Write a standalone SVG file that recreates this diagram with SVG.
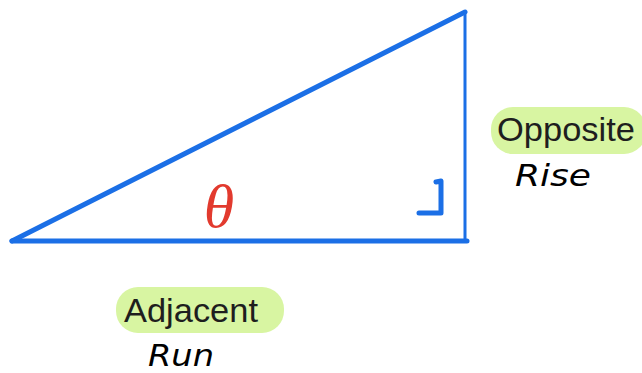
<svg xmlns="http://www.w3.org/2000/svg" width="642" height="373" viewBox="0 0 642 373">
<style>
.edge{stroke:#1b6fe6;stroke-linecap:round;fill:none}
.hl{fill:#d8f5a2}
.lbl{font-family:"Liberation Sans",Arial,sans-serif;font-size:34px;fill:#1e1e1e}
.hand{font-family:"DejaVu Sans","Liberation Sans",sans-serif;font-size:30px;fill:#000;font-style:italic}
</style>
<rect width="642" height="373" fill="#fff"/>
<g id="connectors">
<line class="edge" x1="12" y1="241" x2="465" y2="12" stroke-width="5"/>
<line class="edge" x1="465" y1="12" x2="465" y2="241" stroke-width="3"/>
<line class="edge" x1="12" y1="241" x2="467" y2="241" stroke-width="5"/>
<path class="edge" d="M436 182 L441 181 L441 213 L419 213" stroke-width="5" stroke-linejoin="round"/>
</g>
<g id="theta">
<text x="219" y="227" text-anchor="middle" font-family="Liberation Serif,serif" font-style="italic" font-size="62" fill="#e23a2e">θ</text>
</g>
<g id="opposite">
<rect class="hl" x="491" y="107" width="155" height="47" rx="22"/>
<text class="lbl" x="497" y="141" textLength="138" lengthAdjust="spacingAndGlyphs">Opposite</text>
<text class="hand" x="515" y="186" textLength="76" lengthAdjust="spacingAndGlyphs">Rise</text>
</g>
<g id="adjacent">
<rect class="hl" x="116" y="287" width="168" height="46" rx="22"/>
<text class="lbl" x="124" y="322" textLength="134" lengthAdjust="spacingAndGlyphs">Adjacent</text>
<text class="hand" x="148" y="366" textLength="66" lengthAdjust="spacingAndGlyphs">Run</text>
</g>
</svg>
